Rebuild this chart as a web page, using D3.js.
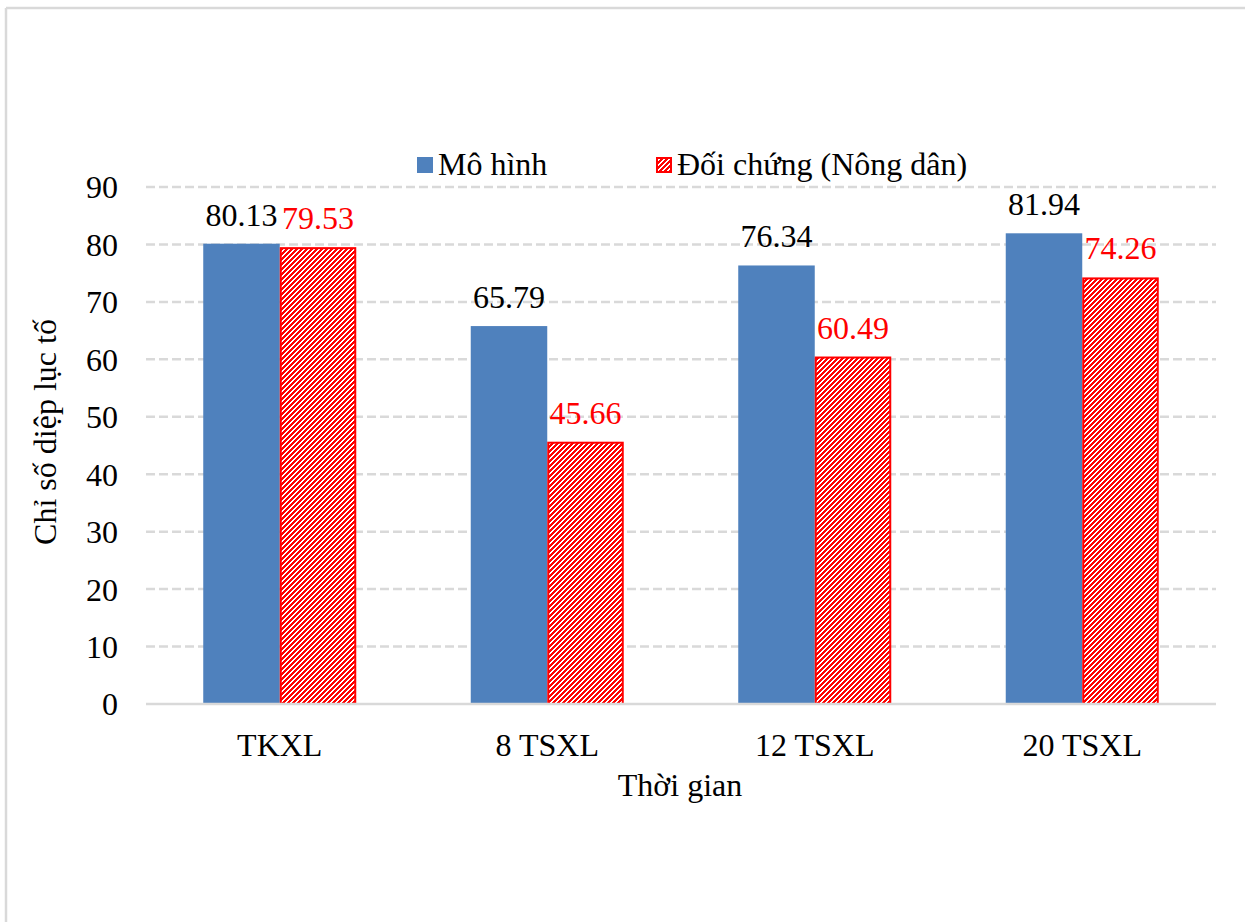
<!DOCTYPE html>
<html>
<head>
<meta charset="utf-8">
<script src="https://cdn.jsdelivr.net/npm/d3@7"></script>
<style>
  html, body { margin: 0; padding: 0; background: #fff; }
  svg { display: block; font-family: "Liberation Serif", "Times New Roman", serif; }
</style>
</head>
<body>
<svg id="chart" width="1245" height="922"></svg>
<script>
// Chlorophyll index by growth stage: model field vs. farmer control
const categories = ["TKXL", "8 TSXL", "12 TSXL", "20 TSXL"];
const seriesNames = ["Mô hình", "Đối chứng (Nông dân)"];
const modelValues = [80.13, 65.79, 76.34, 81.94];
const controlValues = [79.53, 45.66, 60.49, 74.26];
const yTicks = [0, 10, 20, 30, 40, 50, 60, 70, 80, 90];

const svg = d3.select("#chart");
const W = 1245, H = 922;
const plot = { left: 146, right: 1216, top: 187, bottom: 704 };
const blue = "#4F81BD", red = "#FF0000", grid = "#d9d9d9";
const fontSize = 32;
const serif = "Liberation Serif, Times New Roman, serif";

// Outer frame (only top and left edges fall inside the canvas)
svg.append("line").attr("x1", 6).attr("x2", W).attr("y1", 8).attr("y2", 8)
  .attr("stroke", grid).attr("stroke-width", 2.5);
svg.append("line").attr("x1", 6).attr("x2", 6).attr("y1", 8).attr("y2", H)
  .attr("stroke", grid).attr("stroke-width", 2.5);

// Pixel-stepped upward diagonal hatch for the control series
const tile = 5, redRun = 3;
const defs = svg.append("defs");
const pat = defs.append("pattern")
  .attr("id", "hatch")
  .attr("patternUnits", "userSpaceOnUse")
  .attr("width", tile).attr("height", tile);
pat.append("rect").attr("width", tile).attr("height", tile).attr("fill", "#fff");
const cells = [];
for (let r = 0; r < tile; r++) {
  for (let k = 0; k < redRun; k++) {
    cells.push([((tile - 1 - r + k) % tile + tile) % tile, r]);
  }
}
pat.selectAll("rect.px").data(cells).join("rect").attr("class", "px")
  .attr("x", d => d[0]).attr("y", d => d[1])
  .attr("width", 1).attr("height", 1)
  .attr("fill", red).attr("shape-rendering", "crispEdges");

const x = d3.scaleBand().domain(categories).range([plot.left, plot.right]).paddingInner(0).paddingOuter(0);
const groupPad = 0.214; // fraction of band left empty on each side
const barW = x.bandwidth() * (1 - 2 * groupPad) / 2;
const y = d3.scaleLinear().domain([0, 90]).range([plot.bottom, plot.top]);

// Gridlines
svg.append("g").selectAll("line").data(yTicks.filter(t => t > 0)).join("line")
  .attr("x1", plot.left).attr("x2", plot.right)
  .attr("y1", d => y(d)).attr("y2", d => y(d))
  .attr("stroke", grid).attr("stroke-width", 2.5)
  .attr("stroke-dasharray", "9,4");

// Y axis tick labels
const yAxis = d3.axisLeft(y).tickValues(yTicks).tickSize(0).tickPadding(28);
const gy = svg.append("g").attr("transform", `translate(${plot.left},0)`).call(yAxis)
  .attr("font-family", serif);
gy.select(".domain").remove();
gy.selectAll("text").attr("font-size", fontSize).attr("fill", "#000").attr("dy", "0.34em");

// Bars
const series = [
  { name: seriesNames[0], values: modelValues, fill: blue, stroke: "none", label: "#000" },
  { name: seriesNames[1], values: controlValues, fill: "url(#hatch)", stroke: red, label: red }
];
series.forEach((s, si) => {
  const g = svg.append("g");
  const outlined = s.stroke !== "none";
  const bx = (c) => x(c) + x.bandwidth() * groupPad + si * barW;
  g.selectAll("rect").data(categories).join("rect")
    .attr("x", (c) => bx(c) + (outlined ? 1 : 0))
    .attr("width", barW - (outlined ? 2 : 0))
    .attr("y", (c, i) => y(s.values[i]) + (outlined ? 1 : 0))
    .attr("height", (c, i) => plot.bottom - y(s.values[i]) - (outlined ? 1 : 0))
    .attr("fill", s.fill)
    .attr("stroke", s.stroke)
    .attr("stroke-width", 2);
  g.selectAll("text").data(categories).join("text")
    .attr("x", (c) => bx(c) + barW / 2)
    .attr("y", (c, i) => y(s.values[i]) - 18)
    .attr("text-anchor", "middle")
    .attr("font-size", fontSize)
    .attr("fill", s.label)
    .text((c, i) => s.values[i].toFixed(2));
});

// X axis baseline and category labels
svg.append("line").attr("x1", plot.left).attr("x2", plot.right)
  .attr("y1", plot.bottom).attr("y2", plot.bottom)
  .attr("stroke", grid).attr("stroke-width", 2.5);
const xAxis = d3.axisBottom(x).tickSize(0).tickPadding(0);
const gx = svg.append("g").attr("transform", `translate(0,${plot.bottom})`).call(xAxis)
  .attr("font-family", serif);
gx.select(".domain").remove();
gx.selectAll("text").attr("font-size", fontSize).attr("fill", "#000").attr("dy", null).attr("y", 52);

// Axis titles
svg.append("text").attr("x", 680).attr("y", 796).attr("text-anchor", "middle")
  .attr("font-size", fontSize).text("Thời gian");
svg.append("text").attr("transform", "translate(56,432) rotate(-90)")
  .attr("text-anchor", "middle").attr("font-size", fontSize).text("Chỉ số diệp lục tố");

// Legend
const legend = [
  { name: seriesNames[0], x: 417, fill: blue, stroke: "none" },
  { name: seriesNames[1], x: 656, fill: "url(#hatch)", stroke: red }
];
const lg = svg.append("g");
legend.forEach(l => {
  const outlined = l.stroke !== "none";
  lg.append("rect").attr("x", l.x + (outlined ? 1 : 0)).attr("y", 157 + (outlined ? 1 : 0))
    .attr("width", outlined ? 14 : 16).attr("height", outlined ? 14 : 16)
    .attr("fill", l.fill).attr("stroke", l.stroke).attr("stroke-width", 2);
  lg.append("text").attr("x", l.x + 21).attr("y", 175).attr("font-size", fontSize).text(l.name);
});
</script>
</body>
</html>
